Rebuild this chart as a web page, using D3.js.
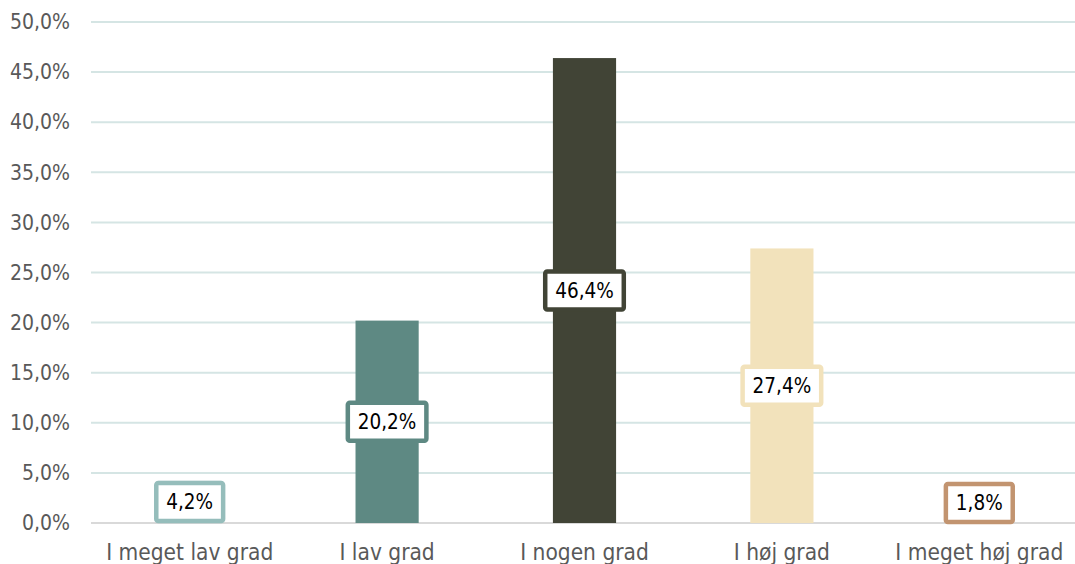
<!DOCTYPE html>
<html><head><meta charset="utf-8">
<script src="https://cdn.jsdelivr.net/npm/d3@7"></script>
<style>body{margin:0;background:#fff}svg{display:block}</style>
</head><body><svg id="c" width="1075" height="564"></svg>
<script>
const categories = ["I meget lav grad","I lav grad","I nogen grad","I høj grad","I meget høj grad"];
const values = [4.2, 20.2, 46.4, 27.4, 1.8];
const colors = ["#95bdbb","#5e8983","#414436","#f2e2bb","#c29470"];
const yTicks = [0,5,10,15,20,25,30,35,40,45,50];

const font = "'DejaVu Sans Condensed','DejaVu Sans',sans-serif";
const svg = d3.select("#c");
const m = {l:91, r:1078, t:22, b:523};
const x = d3.scaleBand().domain(categories).range([m.l, m.r]).paddingInner(0.68).paddingOuter(0.34);
const y = d3.scaleLinear().domain([0,50]).range([m.b, m.t]);
const fmt = v => v.toFixed(1).replace(".", ",") + "%";

// gridlines
svg.append("g").selectAll("line").data(yTicks).join("line")
  .attr("x1", m.l).attr("x2", 1075)
  .attr("y1", d => y(d)).attr("y2", d => y(d))
  .attr("stroke", d => d === 0 ? "#d9d9d9" : "#d5e5e4").attr("stroke-width", 2);

// y axis
const ya = svg.append("g").attr("transform", `translate(${m.l - 21},0)`)
  .call(d3.axisLeft(y).tickValues(yTicks).tickSize(0).tickPadding(0).tickFormat(fmt));
ya.select(".domain").remove();
ya.selectAll("text").attr("font-family", font).attr("font-size", 21).attr("fill", "#595959");

// x axis
const xa = svg.append("g").attr("transform", `translate(0,${m.b})`)
  .call(d3.axisBottom(x).tickSize(0).tickPadding(21));
xa.select(".domain").remove();
xa.selectAll("text").attr("font-family", font).attr("font-size", 22.5).attr("fill", "#595959");

// bars
svg.append("g").selectAll("rect").data(values).join("rect")
  .attr("x", (d,i) => x(categories[i])).attr("width", x.bandwidth())
  .attr("y", d => y(d)).attr("height", d => y(0) - y(d))
  .attr("fill", (d,i) => colors[i]);

// labels
const lg = svg.append("g").selectAll("g").data(values).join("g");
lg.each(function(d,i){
  const g = d3.select(this);
  const cx = x(categories[i]) + x.bandwidth()/2;
  let cy = (y(d) + y(0))/2;
  const h = 42;
  cy = Math.min(cy, y(0) - h/2 + 1);
  const t = g.append("text").text(fmt(d)).attr("x", cx).attr("y", cy)
    .attr("text-anchor","middle").attr("dy","0.36em")
    .attr("font-family", font).attr("font-size", 20.5).attr("fill", "#000");
  const w = t.node().getComputedTextLength() + 20;
  g.insert("rect","text").attr("x", cx - w/2).attr("y", cy - h/2 + 2).attr("width", w).attr("height", h - 4)
    .attr("rx", 2).attr("fill", "#fff").attr("stroke", colors[i]).attr("stroke-width", 4.5);
});
</script></body></html>
